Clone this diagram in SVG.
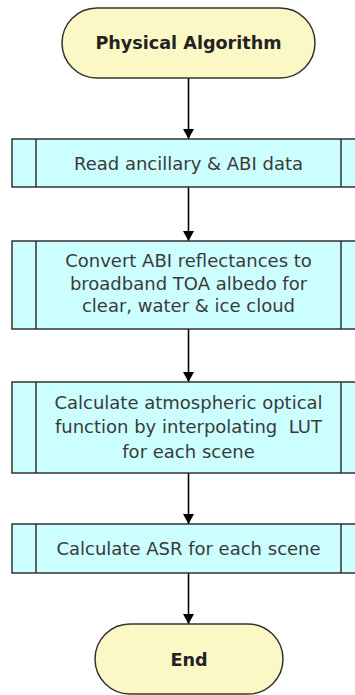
<svg xmlns="http://www.w3.org/2000/svg" width="355" height="695" viewBox="0 0 355 695">
<style>
.term{fill:#FCF8C6;stroke:#333;stroke-width:1.5}
.proc{fill:#CCFFFF;stroke:#333;stroke-width:1.5}
.side{stroke:#333;stroke-width:1.5}
.t{font-family:"DejaVu Sans",Verdana,sans-serif;font-size:18px;fill:#3a3a3a;text-anchor:middle}
.tb{font-family:"DejaVu Sans",Verdana,sans-serif;font-size:17.6px;font-weight:bold;fill:#222;text-anchor:middle}
.c{stroke:#000;stroke-width:1.6;fill:none;marker-end:url(#ah)}
</style>
<defs>
<marker id="ah" markerUnits="userSpaceOnUse" markerWidth="12" markerHeight="11" refX="10" refY="5.5" orient="auto">
<path d="M0,0 L10,5.5 L0,11 Z" fill="#000"/>
</marker>
</defs>
<g id="connectors">
<line class="c" x1="188.5" y1="78" x2="188.5" y2="139"/>
<line class="c" x1="188.5" y1="187" x2="188.5" y2="241"/>
<line class="c" x1="188.5" y1="329" x2="188.5" y2="382"/>
<line class="c" x1="188.5" y1="473" x2="188.5" y2="524"/>
<line class="c" x1="188.5" y1="573" x2="188.5" y2="624"/>
</g>
<g id="start">
<rect class="term" x="62" y="8" width="253" height="70" rx="35" ry="35"/>
<text class="tb" x="188.5" y="49">Physical Algorithm</text>
</g>
<g id="read">
<rect class="proc" x="12" y="139" width="353" height="48"/>
<line class="side" x1="36" y1="139" x2="36" y2="187"/>
<line class="side" x1="341" y1="139" x2="341" y2="187"/>
<text class="t" x="188.5" y="170">Read ancillary &amp; ABI data</text>
</g>
<g id="convert">
<rect class="proc" x="12" y="241" width="353" height="88"/>
<line class="side" x1="36" y1="241" x2="36" y2="329"/>
<line class="side" x1="341" y1="241" x2="341" y2="329"/>
<text class="t" x="188.5" y="267">Convert ABI reflectances to</text>
<text class="t" x="188.5" y="290">broadband TOA albedo for</text>
<text class="t" x="188.5" y="312">clear, water &amp; ice cloud</text>
</g>
<g id="calc-aof">
<rect class="proc" x="12" y="382" width="353" height="91"/>
<line class="side" x1="36" y1="382" x2="36" y2="473"/>
<line class="side" x1="341" y1="382" x2="341" y2="473"/>
<text class="t" x="188.5" y="409">Calculate atmospheric optical</text>
<text class="t" x="188.5" y="433" xml:space="preserve">function by interpolating  LUT</text>
<text class="t" x="188.5" y="458">for each scene</text>
</g>
<g id="calc-asr">
<rect class="proc" x="12" y="524" width="353" height="49"/>
<line class="side" x1="36" y1="524" x2="36" y2="573"/>
<line class="side" x1="341" y1="524" x2="341" y2="573"/>
<text class="t" x="188.5" y="555">Calculate ASR for each scene</text>
</g>
<g id="end">
<rect class="term" x="95" y="624" width="188" height="70" rx="35" ry="35"/>
<text class="tb" x="189" y="666">End</text>
</g>
</svg>
